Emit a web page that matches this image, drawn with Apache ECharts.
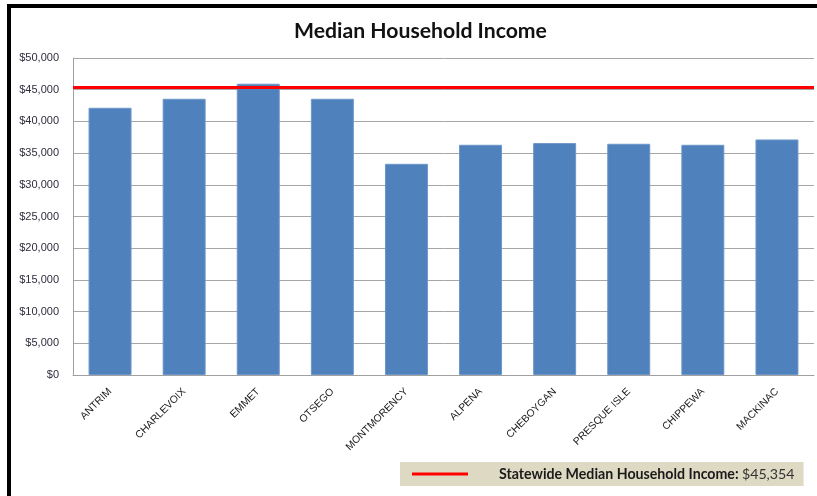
<!DOCTYPE html>
<html>
<head>
<meta charset="utf-8">
<script src="https://cdn.jsdelivr.net/npm/echarts@6/dist/echarts.min.js"></script>
<style>
  html, body { margin: 0; padding: 0; background: #ffffff; }
  #wrap { position: relative; width: 817px; height: 496px; overflow: hidden; }
  #chart { position: absolute; left: 0; top: 0; width: 817px; height: 496px; }
  .frame-top { position: absolute; left: 7px; top: 4px; width: 810px; height: 4px; background: #000; }
  .frame-left { position: absolute; left: 7px; top: 4px; width: 4px; height: 492px; background: #000; }
</style>
</head>
<body>
<div id="wrap">
  <div id="chart"></div>
  <div class="frame-top"></div>
  <div class="frame-left"></div>
</div>
<script>
// Counties and their median household income (US dollars)
const counties = ['ANTRIM', 'CHARLEVOIX', 'EMMET', 'OTSEGO', 'MONTMORENCY',
                  'ALPENA', 'CHEBOYGAN', 'PRESQUE ISLE', 'CHIPPEWA', 'MACKINAC'];
const medianIncome = [42150, 43570, 45940, 43570, 33310,
                      36310, 36580, 36470, 36310, 37150];

// Statewide reference value drawn as a horizontal line
const stateMedianName = 'Statewide Median Household Income';
const stateMedian = 45354;

// Value axis ticks
const yMin = 0, yMax = 50000, yStep = 5000;

const money = v => '$' + Math.round(v).toLocaleString('en-US');

const chart = echarts.init(document.getElementById('chart'), null, { renderer: 'canvas' });

chart.setOption({
  animation: false,
  backgroundColor: 'transparent',
  title: {
    text: 'Median Household Income',
    left: 289,
    top: 16,
    textStyle: { fontFamily: 'Lato', fontWeight: 'bold', fontSize: 21.2, color: '#111' }
  },
  legend: {
    left: 400,
    top: 462,
    padding: [5, 9, 5, 12],
    backgroundColor: '#ddd9c3',
    selectedMode: false,
    itemWidth: 56,
    itemHeight: 3,
    data: [{ name: stateMedianName, icon: 'rect' }],
    formatter: name => '{b|' + name + ':} {n|' + money(stateMedian) + '}',
    textStyle: {
      rich: {
        b: { fontFamily: 'Lato', fontWeight: 'bold', fontSize: 14.2, color: '#1a1a1a', padding: [0, 0, 0, 26], lineHeight: 16 },
        n: { fontFamily: 'Lato', fontSize: 14.2, color: '#333', lineHeight: 16 }
      }
    }
  },
  grid: { left: 73, right: 3, top: 58, bottom: 121, containLabel: false },
  xAxis: {
    type: 'category',
    data: counties,
    axisLine: { show: true, lineStyle: { color: '#a0a0a0', width: 1 } },
    axisTick: { show: false },
    axisLabel: {
      interval: 0,
      rotate: 45,
      margin: 15,
      fontFamily: 'Liberation Sans',
      fontSize: 10.3,
      color: '#1a1a1a'
    }
  },
  yAxis: {
    type: 'value',
    min: yMin,
    max: yMax,
    interval: yStep,
    axisLine: { show: true, lineStyle: { color: '#a0a0a0', width: 1 } },
    axisTick: { show: false },
    splitLine: { show: true, lineStyle: { color: '#a6a6a6', width: 1 } },
    axisLabel: {
      margin: 14,
      fontFamily: 'Liberation Sans',
      fontSize: 11,
      color: '#2e2e3e',
      formatter: v => money(v)
    }
  },
  series: [
    {
      name: 'Median Household Income',
      type: 'bar',
      data: medianIncome,
      barWidth: '58%',
      itemStyle: { color: '#4f81bd', borderColor: '#6d97c9', borderWidth: 1 }
    },
    {
      name: stateMedianName,
      type: 'line',
      data: [],
      color: '#ff0000',
      markLine: {
        silent: true,
        symbol: 'none',
        label: { show: false },
        lineStyle: { color: '#ff0000', width: 3, type: 'solid' },
        data: [{ yAxis: stateMedian }]
      }
    }
  ]
});
</script>
</body>
</html>
